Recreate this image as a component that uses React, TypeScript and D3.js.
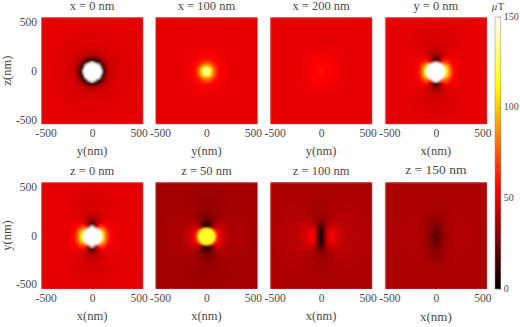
import React, { useEffect, useRef } from 'react';
import * as d3 from 'd3';

// field profiles: distance from centre (nm) -> field (uT),
// one along the horizontal axis and one along the vertical axis of every panel
const x0Radii = [0, 98, 100, 115, 130, 150, 180, 230, 320, 550];
const x0Values = [160, 160, 0, 4, 18, 32, 42, 47, 49, 50];

const x100Radii = [0, 30, 60, 90, 120, 170, 270, 550];
const x100Values = [150, 125, 95, 72, 60, 54, 51, 50];

const x200Radii = [0, 60, 120, 200, 320, 550];
const x200Values = [58, 57, 55, 52, 50, 50];

const planeHRadii = [0, 98, 100, 120, 140, 165, 190, 240, 350, 550];
const planeHValues = [160, 160, 115, 105, 85, 68, 58, 52, 50, 50];
const planeVRadii = [0, 98, 100, 115, 140, 170, 210, 280, 550];
const planeVValues = [160, 160, 5, 8, 20, 32, 42, 47, 50];

const z50HRadii = [0, 85, 95, 110, 130, 160, 200, 280, 550];
const z50HValues = [118, 118, 80, 66, 57, 48, 42, 38, 36];
const z50VRadii = [0, 85, 90, 100, 120, 145, 180, 250, 550];
const z50VValues = [118, 118, 40, 5, 8, 16, 25, 32, 36];

const z100HRadii = [0, 20, 40, 70, 100, 130, 180, 260, 550];
const z100HValues = [0, 8, 26, 46, 56, 53, 46, 41, 38];
const z100VRadii = [0, 60, 90, 130, 180, 260, 550];
const z100VValues = [0, 0, 12, 25, 32, 36, 38];

const z150HRadii = [0, 30, 60, 100, 150, 250, 550];
const z150HValues = [20, 22, 28, 34, 38, 39, 38];
const z150VRadii = [0, 60, 100, 150, 200, 300, 550];
const z150VValues = [20, 22, 26, 30, 33, 37, 38];

const titles = ['x = 0 nm', 'x = 100 nm', 'x = 200 nm', 'y = 0 nm', 'z = 0 nm', 'z = 50 nm', 'z = 100 nm', 'z = 150 nm'];
const xLabels = ['y(nm)', 'y(nm)', 'y(nm)', 'x(nm)', 'x(nm)', 'x(nm)', 'x(nm)', 'x(nm)'];
const yLabels = ['z(nm)', '', '', '', 'y(nm)', '', '', ''];
const axisTicks = [-500, 0, 500];
const colorTicks = [0, 50, 100, 150];

const profiles = [
  [x0Radii, x0Values, x0Radii, x0Values],
  [x100Radii, x100Values, x100Radii, x100Values],
  [x200Radii, x200Values, x200Radii, x200Values],
  [planeHRadii, planeHValues, planeVRadii, planeVValues],
  [planeHRadii, planeHValues, planeVRadii, planeVValues],
  [z50HRadii, z50HValues, z50VRadii, z50VValues],
  [z100HRadii, z100HValues, z100VRadii, z100VValues],
  [z150HRadii, z150HValues, z150VRadii, z150VValues],
];

const panelLefts = [41, 155.3, 270, 384.7];
const panelWidth = 102.3;
const rowTops = [17, 182];
const panelHeight = [107.2, 107];
const cells = 96;
const font = '"Liberation Serif", serif';
const textColor = '#4a4a4a';

// matlab "hot"
const hot = d3.scaleLinear<string>()
  .domain([0, 56, 112, 150])
  .range(['#000000', '#ff0000', '#ffff00', '#ffffff'])
  .clamp(true);

function App() {
  const ref = useRef<SVGSVGElement>(null);

  useEffect(() => {
    const svg = d3.select(ref.current);
    svg.selectAll('*').remove();
    const defs = svg.append('defs');
    defs.append('filter').attr('id', 'soft')
      .attr('x', '-2%').attr('y', '-2%').attr('width', '104%').attr('height', '104%')
      .append('feGaussianBlur').attr('stdDeviation', 0.8);

    const grid = d3.range(cells);
    const cellNm = d3.scaleBand<number>().domain(grid).range([-550, 550]);

    titles.forEach((title, i) => {
      const row = i < 4 ? 0 : 1;
      const left = panelLefts[i % 4];
      const top = rowTops[row];
      const h = panelHeight[row];
      const x = d3.scaleLinear().domain([-550, 550]).range([left, left + panelWidth]);
      const y = d3.scaleLinear().domain([-550, 550]).range([top + h, top]);
      const [hr, hv, vr, vv] = profiles[i];
      const horiz = d3.scaleLinear().domain(hr).range(hv).clamp(true);
      const vert = d3.scaleLinear().domain(vr).range(vv).clamp(true);

      const field = (nx: number, ny: number) => {
        const r = Math.hypot(nx, ny);
        const s = r === 0 ? 0 : ny / r;
        const w = s * s * s * s;
        return horiz(r) * (1 - w) + vert(r) * w;
      };

      const clipId = `clip-${i}`;
      defs.append('clipPath').attr('id', clipId)
        .append('rect').attr('x', left).attr('y', top).attr('width', panelWidth).attr('height', h);

      const pts = grid.flatMap(a => grid.map(b => [a, b]));
      const step = cellNm.bandwidth();
      svg.append('g').attr('clip-path', `url(#${clipId})`)
        .append('g').attr('filter', 'url(#soft)').attr('shape-rendering', 'crispEdges')
        .selectAll('rect').data(pts).join('rect')
        .attr('x', d => x(cellNm(d[0])!))
        .attr('y', d => y(cellNm(d[1])! + step))
        .attr('width', x(step) - x(0) + 1)
        .attr('height', y(0) - y(step) + 1)
        .attr('fill', d => hot(field(cellNm(d[0])! + step / 2, cellNm(d[1])! + step / 2)));

      const bx = svg.append('g')
        .attr('transform', `translate(0,${top + h + 3})`)
        .call(d3.axisBottom(x).tickValues(axisTicks).tickSize(0).tickPadding(2).tickFormat(d => String(d)));
      bx.select('.domain').remove();

      if (i % 4 === 0) {
        const ly = svg.append('g')
          .attr('transform', `translate(${left},0)`)
          .call(d3.axisLeft(y).tickValues(axisTicks).tickSize(0).tickPadding(4).tickFormat(d => String(d)));
        ly.select('.domain').remove();
        svg.append('text')
          .attr('transform', `translate(11,${top + h / 2}) rotate(-90)`)
          .attr('text-anchor', 'middle').attr('class', 'lbl').text(yLabels[i]);
      }

      svg.append('text')
        .attr('x', left + panelWidth / 2).attr('y', row === 0 ? 10 : i === 7 ? 174 : 175)
        .attr('text-anchor', 'middle').attr('class', 'lbl')
        .style('font-size', i === 7 ? '13.5px' : null)
        .text(title);
      svg.append('text')
        .attr('x', left + panelWidth / 2).attr('y', row === 0 ? 155 : i === 7 ? 321 : 320)
        .attr('text-anchor', 'middle').attr('class', 'lbl')
        .style('font-size', i === 7 ? '13px' : null)
        .text(xLabels[i]);
    });

    // colorbar
    const cb = d3.scaleLinear().domain([0, 150]).range([289, 17]);
    const levels = d3.range(0, 150, 0.6);
    svg.append('g').attr('shape-rendering', 'crispEdges')
      .selectAll('rect').data(levels).join('rect')
      .attr('x', 495).attr('width', 6)
      .attr('y', d => cb(d + 0.6))
      .attr('height', cb(0) - cb(0.6) + 0.4)
      .attr('fill', d => hot(d));
    svg.append('rect').attr('x', 495).attr('y', 17).attr('width', 5.8).attr('height', 272)
      .attr('fill', 'none').attr('stroke', '#8a8a8a').attr('stroke-width', 0.5);
    const cAxis = svg.append('g')
      .attr('transform', 'translate(500.8,0)')
      .call(d3.axisRight(cb).tickValues(colorTicks).tickSize(-2).tickPadding(3));
    cAxis.select('.domain').remove();
    cAxis.selectAll('line').attr('stroke', '#8a6a20').attr('stroke-width', 0.5);
    svg.append('text').attr('x', 498).attr('y', 10).attr('text-anchor', 'middle').attr('class', 'lbl')
      .style('font-size', '11px').html('<tspan font-style="italic">μ</tspan>T');

    svg.selectAll('.tick text')
      .style('font-family', font).style('font-size', '11.5px').style('fill', textColor);
    cAxis.selectAll('text').style('font-size', '10px').attr('dy', '0.2em');
    svg.selectAll('.lbl')
      .style('font-family', font).style('fill', textColor);
    svg.selectAll('.lbl').filter(function () {
      return !(this as SVGElement).style.fontSize;
    }).style('font-size', '12.5px');
  }, []);

  return (
    <svg ref={ref} width={520} height={327}
      style={{ position: 'absolute', left: 0, top: 0, background: '#fff' }} />
  );
}

export default App;
